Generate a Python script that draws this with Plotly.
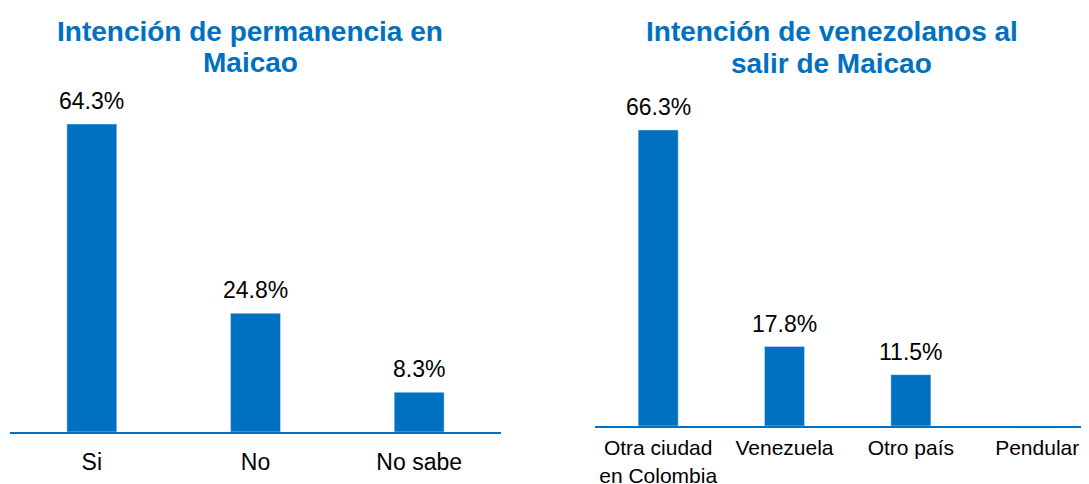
import plotly.graph_objects as go
from plotly.subplots import make_subplots

# -------------------------
# Data
# -------------------------
perm_cats = ["Si", "No", "No sabe"]
perm_vals = [64.3, 24.8, 8.3]

salir_cats = ["Otra ciudad<br>en Colombia", "Venezuela", "Otro país", "Pendular"]
salir_vals = [66.3, 17.8, 11.5, 0]

title_left = ["Intención de permanencia en", "Maicao"]
title_right = ["Intención de venezolanos al", "salir de Maicao"]

BLUE = "#0070C0"
FONT = "Arial, Liberation Sans, sans-serif"

# page has an 8px body margin, so the figure is 8px smaller and shifted
OFF = 8
W, H = 1089 - OFF, 484 - OFF


def px(x):
    return (x - OFF) / W


def py(y):
    return (H - (y - OFF)) / H


fig = make_subplots(rows=1, cols=2)

fig.add_trace(go.Bar(x=perm_cats, y=perm_vals, marker_color=BLUE, width=0.305,
                     hoverinfo="x+y"), row=1, col=1)
fig.add_trace(go.Bar(x=salir_cats, y=salir_vals, marker_color=BLUE, width=0.317,
                     hoverinfo="x+y"), row=1, col=2)

# value labels above bars
for cats, vals, xa, ya in [(perm_cats, perm_vals, "x", "y"), (salir_cats, salir_vals, "x2", "y2")]:
    for c, v in zip(cats, vals):
        if v > 0:
            fig.add_annotation(x=c, y=v, xref=xa, yref=ya, text=f"{v:.1f}%",
                               showarrow=False, yanchor="bottom", yshift=8,
                               font=dict(family=FONT, size=23, color="black"))

# titles
for lines, xc, ys in [(title_left, 250, [31, 62]), (title_right, 831.5, [31, 63])]:
    for txt, yp in zip(lines, ys):
        fig.add_annotation(x=px(xc), y=py(yp), xref="paper", yref="paper",
                           text=f"<b>{txt}</b>", showarrow=False,
                           xanchor="center", yanchor="middle",
                           font=dict(family=FONT, size=28, color=BLUE))

axis_common = dict(showgrid=False, zeroline=False, ticks="", showline=True, automargin=False,
                   linecolor=BLUE, linewidth=2, tickfont=dict(family=FONT, color="black"))

fig.update_xaxes(domain=[px(10), px(501)], range=[-0.5, 2.5],
                 tickfont_size=23, ticklabelstandoff=8, **axis_common, row=1, col=1)
fig.update_xaxes(domain=[px(595), 1.0], range=[-0.5, 3.41],
                 tickfont_size=21, ticklabelstandoff=2, **axis_common, row=1, col=2)

fig.update_yaxes(domain=[py(432), py(96.7)], range=[0, 70], visible=False, row=1, col=1)
fig.update_yaxes(domain=[py(426), py(113.4)], range=[0, 70], visible=False, row=1, col=2)

fig.update_layout(
    width=W, height=H,
    margin=dict(l=0, r=0, t=0, b=0),
    paper_bgcolor="white", plot_bgcolor="white",
    showlegend=False,
    font=dict(family=FONT),
)

fig.write_html("out.html")
